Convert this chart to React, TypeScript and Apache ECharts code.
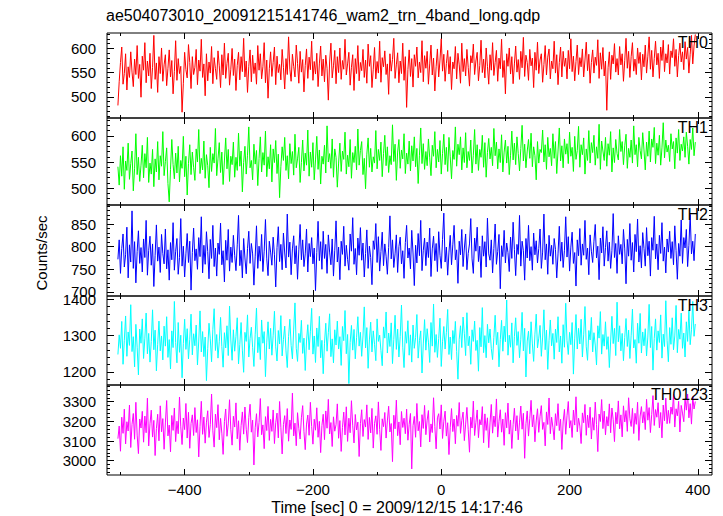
import React, { useEffect, useRef } from "react";
import * as echarts from "echarts";

// ---------- data ----------
const TITLE = "ae504073010_20091215141746_wam2_trn_4band_long.qdp";
const X_NAME = "Time [sec] 0 = 2009/12/15 14:17:46";
const Y_NAME = "Counts/sec";
const BAND_NAMES = ["TH0", "TH1", "TH2", "TH3", "TH0123"];

const T_START = -504; // first bin time (sec)
const T_STEP = 2; // bin width (sec)

const X_MIN = -521;
const X_MAX = 422;
const X_LABELS = [-400, -200, 0, 200, 400];
const X_MINOR = [-500, -300, -100, 100, 300];

const TH0 = [
  482, 531, 571, 603, 526, 548, 589, 514, 562, 540,
  593, 551, 521, 578, 546, 606, 538, 567, 499, 584,
  555, 612, 529, 574, 543, 590, 517, 561, 627, 536,
  570, 509, 583, 548, 601, 532, 566, 587, 523, 559,
  597, 541, 575, 506, 552, 616, 534, 579, 548, 563,
  468, 528, 592, 556, 539, 608, 571, 517, 583, 546,
  561, 598, 525, 576, 553, 619, 540, 568, 502, 589,
  533, 572, 549, 604, 527, 581, 558, 536, 595, 564,
  519, 587, 545, 611, 538, 569, 590, 524, 557, 600,
  544, 578, 513, 565, 592, 535, 583, 552, 621, 541,
  574, 509, 563, 597, 531, 586, 548, 570, 526, 606,
  555, 589, 537, 562, 612, 529, 576, 497, 558, 593,
  542, 571, 603, 525, 584, 550, 567, 535, 598, 561,
  516, 579, 546, 624, 557, 532, 588, 563, 541, 607,
  569, 528, 594, 551, 577, 510, 565, 599, 538, 582,
  556, 615, 534, 573, 547, 590, 521, 568, 605, 543,
  578, 531, 586, 559, 493, 572, 611, 539, 564, 596,
  527, 583, 550, 601, 536, 575, 557, 619, 545, 568,
  592, 524, 561, 587, 513, 579, 548, 606, 533, 571,
  554, 598, 540, 576, 528, 609, 563, 585, 519, 557,
  602, 537, 573, 549, 615, 530, 581, 562, 595, 546,
  568, 505, 589, 553, 577, 621, 538, 566, 591, 529,
  574, 548, 611, 534, 583, 478, 556, 597, 542, 579,
  520, 587, 563, 603, 539, 572, 550, 616, 531, 585,
  559, 594, 526, 568, 607, 545, 580, 512, 562, 599,
  541, 576, 620, 553, 588, 532, 569, 596, 547, 583,
  515, 572, 558, 604, 537, 590, 566, 528, 611, 552,
  579, 543, 598, 561, 522, 585, 570, 609, 546, 574,
  592, 533, 565, 617, 550, 578, 539, 601, 563, 526,
  587, 555, 612, 544, 571, 596, 532, 580, 558, 619,
  540, 575, 506, 589, 563, 601, 547, 583, 527, 568,
  605, 551, 577, 536, 594, 560, 623, 542, 586, 571,
  534, 598, 564, 580, 519, 592, 555, 613, 548, 576,
  589, 530, 567, 606, 545, 582, 599, 537, 574, 558,
  615, 549, 587, 525, 571, 603, 541, 594, 563, 580,
  537, 596, 558, 620, 552, 584, 533, 573, 607, 546,
  581, 562, 599, 541, 576, 613, 554, 588, 528, 571,
  597, 549, 582, 565, 618, 538, 591, 557, 602, 543,
  574, 472, 560, 593, 536, 586, 568, 610, 551, 579,
  545, 604, 566, 589, 532, 575, 621, 559, 594, 540,
  583, 612, 553, 578, 546, 601, 569, 592, 535, 588,
  562, 607, 549, 584, 624, 557, 596, 541, 579, 615,
  566, 590, 538, 603, 575, 617, 552, 589, 570, 608,
  547, 595, 581, 620, 563, 598, 541, 585, 611, 572,
  593, 556, 614, 578, 602, 549, 588, 627, 568, 605,
  629,
];

const TH1 = [
  541, 506, 562, 523, 579, 498, 552, 534, 586, 517,
  547, 571, 495, 538, 604, 526, 559, 513, 544, 582,
  520, 566, 539, 597, 511, 548, 527, 574, 503, 556,
  531, 589, 516, 562, 542, 608, 524, 551, 577, 509,
  474, 536, 593, 545, 518, 567, 529, 580, 512, 553,
  538, 599, 522, 561, 487, 547, 583, 526, 569, 540,
  515, 575, 550, 612, 528, 557, 535, 590, 519, 564,
  543, 501, 578, 532, 566, 548, 614, 524, 556, 587,
  530, 569, 507, 552, 596, 537, 574, 513, 561, 545,
  588, 521, 559, 534, 605, 542, 571, 493, 549, 580,
  527, 563, 617, 539, 553, 516, 584, 546, 572, 505,
  557, 598, 531, 568, 544, 609, 522, 560, 537, 583,
  512, 575, 549, 591, 528, 565, 482, 541, 579, 553,
  597, 534, 562, 518, 585, 547, 570, 525, 603, 539,
  556, 578, 511, 549, 592, 533, 567, 544, 611, 523,
  569, 540, 587, 516, 554, 599, 536, 573, 508, 561,
  546, 582, 529, 619, 550, 566, 538, 594, 521, 575,
  559, 502, 548, 586, 532, 571, 555, 607, 527, 563,
  541, 593, 519, 568, 549, 580, 535, 613, 544, 572,
  589, 526, 557, 499, 565, 596, 540, 576, 531, 560,
  548, 610, 537, 574, 553, 588, 522, 566, 601, 543,
  579, 530, 562, 545, 621, 551, 584, 515, 569, 593,
  538, 573, 556, 604, 528, 567, 546, 590, 533, 581,
  552, 598, 541, 576, 509, 563, 615, 547, 585, 536,
  570, 543, 594, 558, 524, 582, 561, 608, 539, 574,
  550, 591, 527, 566, 603, 545, 578, 532, 597, 560,
  518, 572, 555, 617, 542, 584, 564, 598, 535, 577,
  549, 606, 539, 570, 553, 592, 529, 563, 612, 546,
  583, 534, 574, 559, 601, 540, 587, 521, 568, 595,
  556, 578, 543, 614, 562, 588, 537, 575, 549, 602,
  531, 569, 592, 548, 580, 526, 563, 609, 554, 586,
  545, 598, 566, 533, 576, 620, 552, 584, 539, 571,
  593, 557, 605, 541, 579, 562, 516, 589, 548, 574,
  568, 611, 550, 583, 536, 597, 560, 576, 543, 604,
  557, 589, 528, 571, 615, 552, 581, 539, 594, 565,
  585, 547, 607, 561, 578, 532, 599, 555, 572, 618,
  540, 583, 564, 596, 527, 575, 553, 610, 548, 587,
  568, 601, 544, 579, 557, 622, 536, 590, 571, 553,
  597, 542, 585, 563, 608, 531, 577, 549, 593, 566,
  554, 612, 570, 589, 545, 581, 603, 538, 576, 559,
  592, 548, 619, 564, 583, 541, 597, 572, 556, 606,
  573, 535, 588, 561, 609, 550, 594, 578, 616, 547,
  586, 563, 601, 544, 577, 625, 558, 592, 569, 582,
  551, 604, 575, 589, 537, 596, 567, 612, 553, 584,
  571, 598, 559, 607, 580, 546, 593, 574, 615, 562,
  588,
];

const TH2 = [
  772, 815, 741, 796, 828, 755, 782, 843, 731, 804,
  766, 879, 752, 811, 720, 789, 835, 763, 798, 744,
  817, 776, 858, 737, 792, 823, 759, 806, 712, 781,
  848, 768, 799, 743, 827, 785, 762, 839, 751, 793,
  726, 809, 771, 853, 748, 790, 818, 739, 776, 862,
  757, 801, 733, 784, 829, 765, 812, 704, 787, 841,
  769, 795, 750, 820, 778, 866, 742, 803, 761, 833,
  789, 729, 816, 774, 847, 756, 797, 735, 808, 783,
  852, 760, 791, 722, 814, 770, 838, 746, 799, 765,
  825, 781, 747, 804, 869, 758, 792, 731, 818, 775,
  740, 796, 834, 763, 807, 784, 715, 779, 846, 752,
  801, 768, 827, 745, 790, 860, 773, 736, 812, 788,
  759, 821, 782, 711, 798, 844, 767, 805, 749, 830,
  786, 753, 872, 777, 810, 738, 795, 824, 762, 802,
  728, 793, 849, 771, 815, 756, 784, 839, 744, 807,
  778, 820, 762, 797, 703, 787, 856, 769, 811, 750,
  834, 774, 805, 741, 826, 788, 760, 817, 735, 792,
  857, 766, 799, 727, 812, 783, 845, 757, 803, 772,
  748, 828, 790, 864, 761, 796, 738, 819, 781, 842,
  770, 808, 733, 785, 837, 752, 801, 776, 716, 813,
  794, 851, 765, 822, 746, 789, 832, 758, 806, 779,
  739, 798, 868, 773, 815, 754, 784, 826, 743, 800,
  821, 762, 791, 730, 809, 847, 775, 797, 751, 836,
  786, 714, 803, 764, 829, 780, 858, 747, 792, 819,
  758, 810, 776, 841, 734, 795, 823, 769, 807, 745,
  833, 781, 752, 816, 874, 766, 799, 737, 788, 825,
  760, 804, 847, 771, 793, 719, 812, 782, 838, 756,
  797, 828, 749, 785, 806, 862, 773, 741, 819, 790,
  843, 767, 801, 732, 824, 779, 811, 755, 863, 784,
  770, 815, 742, 796, 850, 761, 789, 827, 707, 802,
  778, 836, 764, 808, 787, 745, 821, 774, 854, 794,
  736, 805, 783, 869, 757, 812, 791, 726, 818, 775,
  847, 769, 800, 748, 830, 782, 813, 764, 796, 839,
  752, 788, 872, 771, 806, 739, 825, 779, 803, 761,
  818, 794, 731, 784, 845, 768, 810, 754, 792, 866,
  777, 822, 746, 799, 832, 763, 787, 713, 815, 780,
  840, 759, 806, 781, 858, 772, 797, 738, 826, 790,
  765, 812, 849, 775, 801, 727, 819, 786, 844, 757,
  798, 835, 768, 810, 752, 791, 873, 776, 807, 741,
  824, 783, 805, 762, 838, 795, 718, 816, 779, 851,
  770, 809, 744, 827, 789, 861, 766, 802, 753, 831,
  796, 757, 842, 780, 812, 735, 820, 792, 867, 773,
  806, 749, 825, 785, 853, 768, 799, 742, 817, 788,
  834, 774, 811, 760, 846, 791, 728, 807, 779, 859,
  763, 820, 797, 838, 756, 803, 871, 784, 812, 769,
  828,
];

const TH3 = [
  1248, 1302, 1265, 1339, 1221, 1287, 1354, 1243, 1310, 1273,
  1385, 1256, 1297, 1214, 1331, 1268, 1192, 1318, 1279, 1346,
  1237, 1293, 1362, 1250, 1306, 1227, 1284, 1371, 1261, 1315,
  1203, 1276, 1340, 1258, 1299, 1233, 1326, 1271, 1352, 1240,
  1289, 1208, 1313, 1267, 1394, 1281, 1225, 1336, 1254, 1301,
  1184, 1278, 1345, 1262, 1319, 1236, 1290, 1359, 1247, 1305,
  1272, 1329, 1219, 1285, 1368, 1255, 1311, 1242, 1296, 1176,
  1264, 1334, 1291, 1228, 1317, 1374, 1259, 1303, 1238, 1283,
  1350, 1270, 1213, 1308, 1266, 1327, 1245, 1381, 1288, 1232,
  1316, 1257, 1298, 1349, 1222, 1275, 1336, 1260, 1199, 1309,
  1284, 1357, 1241, 1292, 1323, 1267, 1215, 1304, 1376, 1253,
  1296, 1234, 1343, 1279, 1311, 1187, 1282, 1338, 1263, 1320,
  1246, 1301, 1367, 1269, 1230, 1314, 1277, 1355, 1244, 1289,
  1326, 1258, 1212, 1297, 1345, 1273, 1236, 1318, 1390, 1265,
  1229, 1306, 1281, 1342, 1251, 1293, 1204, 1285, 1330, 1261,
  1312, 1375, 1249, 1299, 1226, 1321, 1270, 1353, 1239, 1287,
  1195, 1279, 1334, 1257, 1308, 1360, 1242, 1291, 1225, 1316,
  1274, 1340, 1263, 1297, 1218, 1325, 1286, 1369, 1250, 1303,
  1168, 1281, 1328, 1260, 1317, 1236, 1294, 1352, 1271, 1309,
  1243, 1299, 1379, 1266, 1322, 1210, 1288, 1337, 1255, 1313,
  1276, 1231, 1346, 1284, 1301, 1259, 1217, 1324, 1293, 1365,
  1252, 1307, 1270, 1335, 1223, 1289, 1356, 1262, 1318, 1241,
  1297, 1384, 1268, 1212, 1311, 1279, 1341, 1246, 1302, 1227,
  1329, 1265, 1295, 1358, 1238, 1286, 1313, 1197, 1277, 1344,
  1260, 1319, 1282, 1226, 1336, 1271, 1387, 1254, 1303, 1240,
  1292, 1348, 1215, 1283, 1325, 1263, 1309, 1372, 1248, 1296,
  1234, 1314, 1278, 1339, 1256, 1180, 1290, 1327, 1267, 1351,
  1305, 1245, 1363, 1272, 1298, 1221, 1316, 1284, 1340, 1259,
  1287, 1202, 1322, 1269, 1377, 1253, 1300, 1239, 1331, 1280,
  1318, 1264, 1234, 1295, 1356, 1275, 1309, 1214, 1289, 1342,
  1257, 1326, 1283, 1398, 1246, 1301, 1268, 1335, 1225, 1297,
  1349, 1273, 1311, 1239, 1290, 1364, 1258, 1320, 1186, 1285,
  1312, 1250, 1338, 1277, 1229, 1304, 1359, 1266, 1293, 1328,
  1243, 1296, 1371, 1261, 1315, 1207, 1287, 1343, 1272, 1306,
  1235, 1318, 1281, 1352, 1255, 1299, 1224, 1330, 1268, 1389,
  1286, 1248, 1309, 1275, 1336, 1194, 1291, 1358, 1263, 1320,
  1277, 1345, 1241, 1302, 1380, 1269, 1232, 1314, 1288, 1350,
  1255, 1308, 1274, 1219, 1327, 1293, 1366, 1249, 1303, 1271,
  1338, 1262, 1297, 1212, 1285, 1353, 1278, 1320, 1245, 1392,
  1283, 1327, 1258, 1306, 1231, 1295, 1347, 1270, 1315, 1237,
  1301, 1373, 1266, 1289, 1224, 1334, 1279, 1361, 1252, 1310,
  1272, 1319, 1244, 1296, 1386, 1267, 1325, 1205, 1292, 1346,
  1260, 1313, 1281, 1357, 1238, 1304, 1270, 1396, 1286, 1228,
  1322, 1276, 1349, 1261, 1299, 1383, 1253, 1317, 1290, 1362,
  1265, 1307, 1241, 1338, 1284, 1370, 1275, 1316, 1394, 1298,
  1332,
];

const TH0123 = [
  3112, 3176, 3048, 3221, 3139, 3262, 3085, 3198, 3151, 3283,
  3067, 3185, 3240, 3109, 3297, 3130, 3036, 3212, 3166, 3251,
  3094, 3227, 3142, 3318, 3075, 3188, 3257, 3120, 3205, 3026,
  3163, 3236, 3101, 3279, 3147, 3214, 3058, 3192, 3306, 3126,
  3181, 3045, 3230, 3154, 3268, 3097, 3201, 3137, 3324, 3172,
  3082, 3217, 3158, 3291, 3115, 3246, 3063, 3189, 3233, 3128,
  3270, 3143, 3208, 3019, 3175, 3302, 3134, 3222, 3089, 3196,
  3254, 3118, 3183, 3339, 3152, 3069, 3237, 3168, 3285, 3106,
  3215, 3140, 3032, 3199, 3263, 3124, 3187, 3310, 3157, 3079,
  3226, 3171, 3294, 3111, 3203, 3053, 3178, 3248, 3135, 3273,
  3160, 3092, 3219, 3287, 3145, 3206, 2978, 3167, 3239, 3121,
  3195, 3316, 3132, 3182, 3061, 3224, 3153, 3276, 3103, 3210,
  3149, 3258, 3087, 3193, 3242, 3116, 3301, 3170, 3034, 3184,
  3229, 3138, 3265, 3099, 3207, 3159, 3344, 3126, 3191, 3076,
  3244, 3163, 3110, 3218, 3280, 3147, 3056, 3186, 3232, 3129,
  3297, 3174, 3084, 3211, 3155, 3269, 3119, 3200, 3041, 3179,
  3236, 3107, 3253, 3165, 3312, 3136, 3194, 3072, 3223, 3150,
  3183, 3289, 3114, 3204, 3047, 3168, 3247, 3131, 3274, 3098,
  3216, 3142, 3305, 3177, 3090, 3235, 3156, 3196, 3021, 3188,
  3259, 3123, 3209, 3171, 3284, 3108, 3220, 3141, 3266, 3064,
  3190, 3228, 3134, 3299, 3158, 3052, 3213, 3173, 3245, 3115,
  3202, 3277, 3146, 3189, 2995, 3231, 3162, 3308, 3127, 3197,
  3081, 3250, 3169, 3216, 3137, 3262, 3104, 3185, 3240, 2958,
  3178, 3225, 3119, 3291, 3152, 3199, 3070, 3234, 3164, 3281,
  3132, 3206, 3255, 3095, 3187, 3143, 3320, 3174, 3060, 3218,
  3239, 3161, 3284, 3113, 3201, 3252, 3125, 3193, 3031, 3170,
  3265, 3148, 3212, 3086, 3230, 3175, 3296, 3139, 3205, 3247,
  3102, 3186, 3271, 3157, 3043, 3221, 3166, 3303, 3128, 3195,
  3258, 3117, 3209, 3182, 3275, 3091, 3238, 3154, 3218, 3066,
  3192, 3286, 3140, 3227, 3173, 3314, 3120, 3200, 3259, 3145,
  3212, 3078, 3244, 3167, 3293, 3135, 3207, 3062, 3183, 3267,
  3151, 3229, 3106, 3196, 3278, 3160, 3241, 3012, 3188, 3253,
  3125, 3215, 3307, 3172, 3233, 3096, 3202, 3264, 3144, 3226,
  3280, 3159, 3195, 3075, 3248, 3184, 3319, 3137, 3221, 3170,
  3106, 3239, 3178, 3290, 3153, 3211, 3057, 3197, 3261, 3134,
  3228, 3301, 3166, 3204, 3118, 3257, 3181, 3325, 3147, 3216,
  3176, 3087, 3243, 3193, 3286, 3129, 3232, 3168, 3272, 3110,
  3219, 3155, 3298, 3184, 3046, 3237, 3199, 3311, 3163, 3252,
  3131, 3224, 3176, 3289, 3142, 3268, 3208, 3097, 3246, 3187,
  3304, 3162, 3233, 3121, 3279, 3197, 3255, 3149, 3320, 3213,
  3174, 3266, 3138, 3241, 3185, 3297, 3103, 3227, 3275, 3192,
  3249, 3158, 3312, 3206, 3270, 3143, 3234, 3331, 3179, 3260,
  3221, 3295, 3167, 3245, 3116, 3283, 3203, 3318, 3188, 3256,
  3190, 3273, 3236, 3337, 3171, 3264, 3228, 3302, 3146, 3281,
  3242, 3198, 3315, 3257, 3339, 3218, 3290, 3186, 3326, 3263,
  3301,
];

const Y_LABELS_TH0 = [500, 550, 600];
const Y_LABELS_TH1 = [500, 550, 600];
const Y_LABELS_TH2 = [700, 750, 800, 850];
const Y_LABELS_TH3 = [1200, 1300, 1400];
const Y_LABELS_TH0123 = [3000, 3100, 3200, 3300];

// ---------- layout / style ----------
const FONT = "Liberation Sans, Arial, Helvetica, sans-serif";
const GRID_LEFT = 107;
const GRID_RIGHT = 11;
const GRID_TOPS = [33, 118, 205, 296, 385];
const GRID_HEIGHTS = [85, 87, 91, 89, 90];

const PANELS = [
  { data: TH0, color: "#ff0000", min: 456, max: 632, labels: Y_LABELS_TH0, minor: 10 },
  { data: TH1, color: "#00ff00", min: 468, max: 634, labels: Y_LABELS_TH1, minor: 10 },
  { data: TH2, color: "#0000ff", min: 691, max: 892, labels: Y_LABELS_TH2, minor: 10 },
  { data: TH3, color: "#00ffff", min: 1164, max: 1409, labels: Y_LABELS_TH3, minor: 20 },
  { data: TH0123, color: "#ff00ff", min: 2927, max: 3385, labels: Y_LABELS_TH0123, minor: 20 },
];

function minorTicks(min: number, max: number, step: number, majors: number[]) {
  const out: number[] = [];
  for (let v = Math.ceil(min / step) * step; v <= max; v += step) {
    if (!majors.includes(v)) out.push(v);
  }
  return out;
}

function buildOption() {
  const grid: any[] = [];
  const xAxis: any[] = [];
  const yAxis: any[] = [];
  const series: any[] = [];
  const graphic: any[] = [];

  PANELS.forEach((p, i) => {
    grid.push({
      left: GRID_LEFT,
      right: GRID_RIGHT,
      top: GRID_TOPS[i],
      height: GRID_HEIGHTS[i],
      show: true,
      borderColor: "#000",
      borderWidth: 1,
      backgroundColor: "transparent",
    });
    const xBase = {
      gridIndex: i,
      type: "value",
      min: X_MIN,
      max: X_MAX,
      axisLine: { show: false, onZero: false },
      splitLine: { show: false },
    };
    (["bottom", "top"] as const).forEach((pos) => {
      xAxis.push({
        ...xBase,
        position: pos,
        axisTick: { show: true, inside: true, length: 6, customValues: X_LABELS, lineStyle: { color: "#000" } },
        axisLabel: {
          show: pos === "bottom" && i === PANELS.length - 1,
          customValues: X_LABELS,
          color: "#000",
          fontSize: 15,
          fontFamily: FONT,
          margin: 7,
          formatter: (v: number) => (v < 0 ? "\u2212" + Math.abs(v) : String(v)),
        },
      });
      xAxis.push({
        ...xBase,
        position: pos,
        axisTick: { show: true, inside: true, length: 3, customValues: X_MINOR, lineStyle: { color: "#000" } },
        axisLabel: { show: false },
      });
    });
    const minors = minorTicks(p.min, p.max, p.minor, p.labels);
    const yBase = {
      gridIndex: i,
      type: "value",
      min: p.min,
      max: p.max,
      axisLine: { show: false, onZero: false },
      splitLine: { show: false },
    };
    (["left", "right"] as const).forEach((pos) => {
      yAxis.push({
        ...yBase,
        position: pos,
        axisTick: { show: true, inside: true, length: 7, customValues: p.labels, lineStyle: { color: "#000" } },
        axisLabel: {
          show: pos === "left",
          customValues: p.labels,
          color: "#000",
          fontSize: 15,
          fontFamily: FONT,
          margin: 11,
          formatter: (v: number) => String(v),
        },
      });
      yAxis.push({
        ...yBase,
        position: pos,
        axisTick: { show: true, inside: true, length: 3, customValues: minors, lineStyle: { color: "#000" } },
        axisLabel: { show: false },
      });
    });
    series.push({
      type: "line",
      xAxisIndex: i * 4,
      yAxisIndex: i * 4,
      data: p.data.map((v, k) => [T_START + k * T_STEP, v]),
      showSymbol: false,
      symbol: "none",
      lineStyle: { color: p.color, width: 1 },
      itemStyle: { color: p.color },
      z: 1,
    });
    graphic.push({
      type: "text",
      right: 15,
      top: GRID_TOPS[i] + 1,
      z: 10,
      style: { text: BAND_NAMES[i], font: `16px ${FONT}`, fill: "#000" },
    });
  });

  graphic.push({
    type: "text",
    left: 106,
    top: 7,
    style: { text: TITLE, font: `16px ${FONT}`, fill: "#000" },
  });
  graphic.push({
    type: "text",
    x: 41,
    y: 253,
    rotation: Math.PI / 2,
    style: { text: Y_NAME, font: `15px ${FONT}`, fill: "#000", textAlign: "center", textVerticalAlign: "middle" },
  });
  graphic.push({
    type: "text",
    x: 397,
    y: 507,
    style: { text: X_NAME, font: `16px ${FONT}`, fill: "#000", textAlign: "center", textVerticalAlign: "middle" },
  });

  return {
    animation: false,
    backgroundColor: "#fff",
    grid,
    xAxis,
    yAxis,
    series,
    graphic,
  };
}

export default function App() {
  const ref = useRef<HTMLDivElement>(null);
  useEffect(() => {
    if (!ref.current) return;
    const chart = echarts.init(ref.current, undefined, { renderer: "svg" });
    chart.setOption(buildOption() as any);
    return () => chart.dispose();
  }, []);
  return (
    <div
      ref={ref}
      style={{ position: "absolute", left: 0, top: 0, width: 723, height: 516 }}
    />
  );
}
